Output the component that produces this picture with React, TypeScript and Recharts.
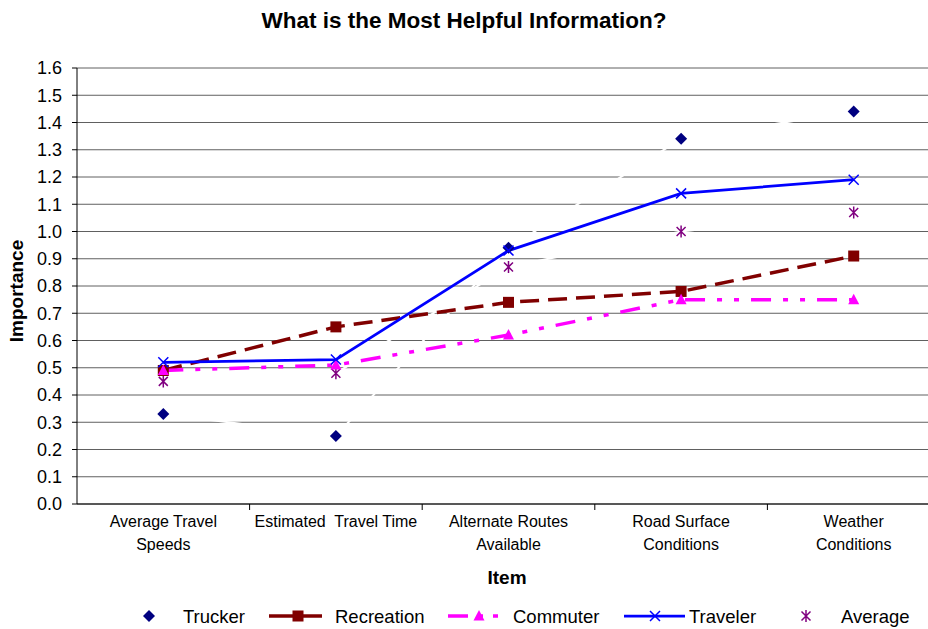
import React from 'react';
import { LineChart, Line, XAxis, YAxis, CartesianGrid } from 'recharts';

// categories along the x axis ("\n" splits the tick label into lines)
const categories = [
  'Average Travel\nSpeeds',
  'Estimated  Travel Time',
  'Alternate Routes\nAvailable',
  'Road Surface\nConditions',
  'Weather\nConditions',
];

// series values
const trucker = [0.33, 0.25, 0.94, 1.34, 1.44];
const recreation = [0.49, 0.65, 0.74, 0.78, 0.91];
const commuter = [0.49, 0.51, 0.62, 0.75, 0.75];
const traveler = [0.52, 0.53, 0.93, 1.14, 1.19];
const average = [0.45, 0.48, 0.87, 1.0, 1.07];

const yTicks = [0, 0.1, 0.2, 0.3, 0.4, 0.5, 0.6, 0.7, 0.8, 0.9, 1.0, 1.1, 1.2, 1.3, 1.4, 1.5, 1.6];

const FONT = '"Liberation Sans", Arial, Helvetica, sans-serif';

// points sit in the middle of each category band, tick marks on band edges
const data = categories.map((c, i) => ({
  x: i + 0.5,
  Trucker: trucker[i],
  Recreation: recreation[i],
  Commuter: commuter[i],
  Traveler: traveler[i],
  Average: average[i],
}));
const xTicks = categories.flatMap((_, i) => (i === 0 ? [0, 0.5] : [i, i + 0.5])).concat([categories.length]);

const NAVY = '#000080';
const MAROON = '#800000';
const MAGENTA = '#FF00FF';
const BLUE = '#0000FF';
const PURPLE = '#800080';

const COMMUTER_DASH = '20 12 5 12 5 12';
const RECREATION_DASH = '19 9';

// marker shapes
const Diamond = ({ cx, cy, color = NAVY }: any) => (
  <path d={`M${cx},${cy - 6}L${cx + 6},${cy}L${cx},${cy + 6}L${cx - 6},${cy}Z`} fill={color} />
);
const Square = ({ cx, cy }: any) => <rect x={cx - 5.5} y={cy - 5.5} width={11} height={11} fill={MAROON} />;
const Triangle = ({ cx, cy }: any) => (
  <path d={`M${cx},${cy - 6}L${cx + 5.5},${cy + 4.5}L${cx - 5.5},${cy + 4.5}Z`} fill={MAGENTA} />
);
const Cross = ({ cx, cy }: any) => (
  <path d={`M${cx - 5},${cy - 5}L${cx + 5},${cy + 5}M${cx - 5},${cy + 5}L${cx + 5},${cy - 5}`} stroke={BLUE} strokeWidth={1.5} fill="none" />
);
const Star = ({ cx, cy }: any) => (
  <path
    d={`M${cx - 4.5},${cy - 4.5}L${cx + 4.5},${cy + 4.5}M${cx - 4.5},${cy + 4.5}L${cx + 4.5},${cy - 4.5}M${cx},${cy - 6}L${cx},${cy + 6}`}
    stroke={PURPLE}
    strokeWidth={1.5}
    fill="none"
  />
);

const dotOf = (Shape: any) => (p: any) => <Shape key={`d-${p.index}`} cx={p.cx} cy={p.cy} />;

const CategoryTick = ({ x, y, payload }: any) => {
  const v = payload.value;
  if (Number.isInteger(v)) {
    if (v === 0 || v === categories.length) return <g />;
    return <line x1={x} y1={y} x2={x} y2={y + 6} stroke="#000" strokeWidth={1} />;
  }
  const lines = categories[Math.floor(v)].split('\n');
  return (
    <text x={x} y={y} textAnchor="middle" fontFamily={FONT} fontSize={16} fill="#000" style={{ whiteSpace: 'pre' }}>
      {lines.map((l, i) => (
        <tspan key={i} x={x} y={y + 23 + i * 23}>
          {l}
        </tspan>
      ))}
    </text>
  );
};

const Legend = () => (
  <svg width={928} height={40} style={{ position: 'absolute', left: 0, top: 596 }}>
    <g fontFamily={FONT} fontSize={18.5} fill="#000">
      <Diamond cx={149} cy={20} />
      <text x={183} y={26.5}>Trucker</text>

      <line x1={269} y1={20} x2={322} y2={20} stroke={MAROON} strokeWidth={3.5} />
      <Square cx={298} cy={20} />
      <text x={335} y={26.5}>Recreation</text>

      <line x1={448} y1={20} x2={504} y2={20} stroke={MAGENTA} strokeWidth={3.5} strokeDasharray="20 10 5 10 5 10" />
      <Triangle cx={479} cy={20} />
      <text x={513} y={26.5}>Commuter</text>

      <line x1={624} y1={20} x2={685} y2={20} stroke={BLUE} strokeWidth={2.75} />
      <Cross cx={655} cy={20} />
      <text x={689} y={26.5}>Traveler</text>

      <Star cx={806} cy={20} />
      <text x={841} y={26.5}>Average</text>
    </g>
  </svg>
);

export default function App() {
  return (
    <div style={{ position: 'absolute', left: 0, top: 0, width: 928, height: 629, overflow: 'hidden', background: '#fff' }}>
      <div
        style={{
          position: 'absolute',
          left: 0,
          top: 6,
          width: 928,
          textAlign: 'center',
          fontFamily: FONT,
          fontWeight: 'bold',
          fontSize: 22.5,
          lineHeight: '30px',
        }}
      >
        What is the Most Helpful Information?
      </div>
      <LineChart width={945} height={629} data={data} margin={{ top: 68, right: 5, left: 17, bottom: 95 }}>
        <CartesianGrid vertical={false} stroke="#606060" strokeWidth={1} />
        <XAxis
          dataKey="x"
          type="number"
          domain={[0, categories.length]}
          ticks={xTicks}
          interval={0}
          tickLine={false}
          tickSize={0}
          tickMargin={0}
          axisLine={{ stroke: '#000', strokeWidth: 1 }}
          tick={<CategoryTick />}
          height={30}
        />
        <YAxis
          type="number"
          domain={[0, 1.6]}
          ticks={yTicks}
          interval={0}
          width={60}
          tickSize={5}
          tickMargin={10}
          tickFormatter={(v: number) => v.toFixed(1)}
          axisLine={{ stroke: '#000', strokeWidth: 1 }}
          tickLine={{ stroke: '#000' }}
          tick={{ fontFamily: FONT, fontSize: 18, fill: '#000' }}
        />
        <Line dataKey="Trucker" type="linear" stroke="#fff" strokeWidth={2} dot={dotOf(Diamond)} activeDot={false} isAnimationActive={false} />
        <Line dataKey="Average" type="linear" stroke="#fff" strokeWidth={2} dot={dotOf(Star)} activeDot={false} isAnimationActive={false} />
        <Line
          dataKey="Recreation"
          type="linear"
          stroke={MAROON}
          strokeWidth={3.5}
          strokeDasharray={RECREATION_DASH}
          dot={dotOf(Square)}
          activeDot={false}
          isAnimationActive={false}
        />
        <Line
          dataKey="Commuter"
          type="linear"
          stroke={MAGENTA}
          strokeWidth={3.5}
          strokeDasharray={COMMUTER_DASH}
          dot={dotOf(Triangle)}
          activeDot={false}
          isAnimationActive={false}
        />
        <Line dataKey="Traveler" type="linear" stroke={BLUE} strokeWidth={2.75} dot={dotOf(Cross)} activeDot={false} isAnimationActive={false} />
      </LineChart>
      <div
        style={{
          position: 'absolute',
          left: 17,
          top: 291,
          transform: 'translate(-50%, -50%) rotate(-90deg)',
          fontFamily: FONT,
          fontWeight: 'bold',
          fontSize: 19,
          whiteSpace: 'nowrap',
        }}
      >
        Importance
      </div>
      <div
        style={{
          position: 'absolute',
          left: 507,
          top: 578,
          transform: 'translate(-50%, -50%)',
          fontFamily: FONT,
          fontWeight: 'bold',
          fontSize: 19,
        }}
      >
        Item
      </div>
      <Legend />
    </div>
  );
}
